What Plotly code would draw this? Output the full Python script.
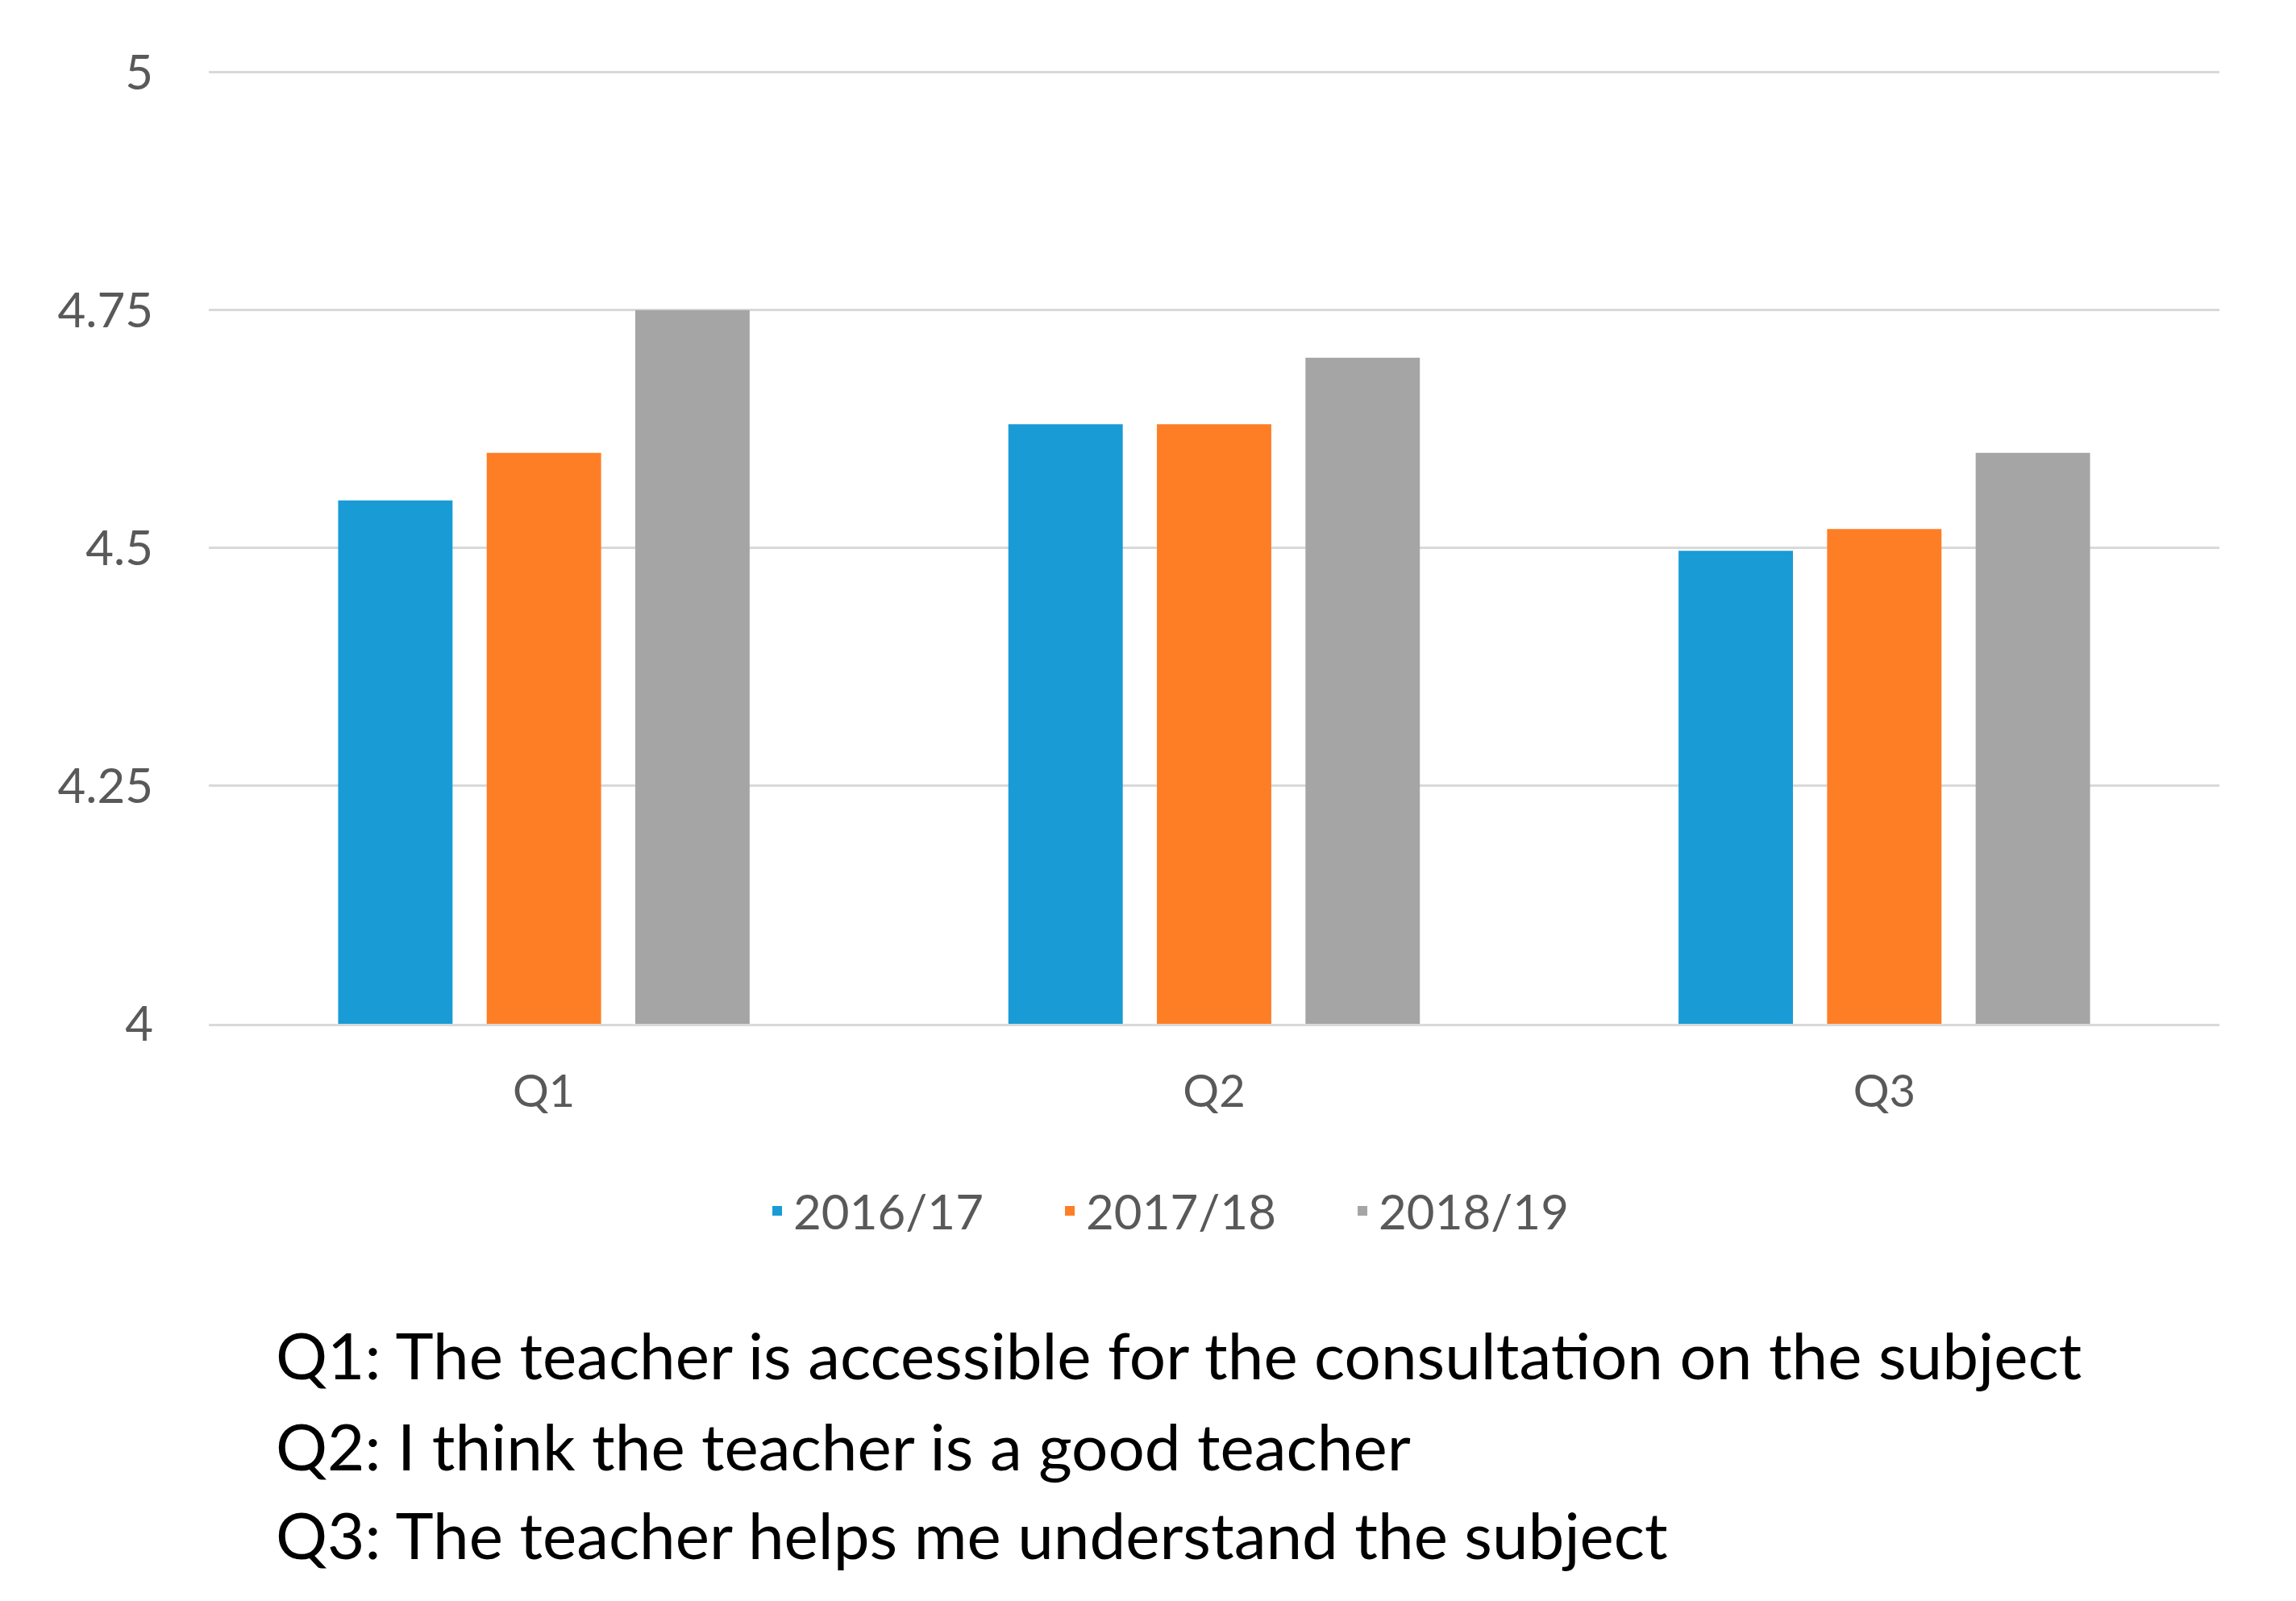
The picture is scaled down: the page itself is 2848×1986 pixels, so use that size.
# Grouped bar chart - teacher survey scores per question and academic year
import plotly.graph_objects as go

questions = ['Q1', 'Q2', 'Q3']
years = ['2016/17', '2017/18', '2018/19']
scores_1617 = [4.55, 4.63, 4.497]
scores_1718 = [4.60, 4.63, 4.52]
scores_1819 = [4.75, 4.70, 4.60]
colors = ['#199BD6', '#FE7E26', '#A5A5A5']

y_ticks = [4, 4.25, 4.5, 4.75, 5]
y_labels = ['4', '4.25', '4.5', '4.75', '5']

notes = ['Q1: The teacher is accessible for the consultation on the subject',
         'Q2: I think the teacher is a good teacher',
         'Q3: The teacher helps me understand the subject']
note_y = [-0.346, -0.442, -0.535]

fig = go.Figure()
for name, vals, col in zip(years, [scores_1617, scores_1718, scores_1819], colors):
    fig.add_trace(go.Bar(x=questions, y=vals, name=name, marker=dict(color=col, line=dict(width=0))))

# Notes under the legend explaining what each question is
for txt, yy in zip(notes, note_y):
    fig.add_annotation(text=txt, xref='paper', yref='paper', x=0.0325, y=yy,
                       xanchor='left', yanchor='middle', showarrow=False,
                       font=dict(family='Lato', size=80, color='#000000'))

fig.update_layout(
    width=2848, height=1986,
    margin=dict(l=251, r=103, t=78, b=724),
    paper_bgcolor='white', plot_bgcolor='white',
    barmode='group', bargap=0.335, bargroupgap=0.23,
    font=dict(family='Lato', color='#595959'),
    legend=dict(orientation='h', x=0.493, xanchor='center', y=-0.196, yanchor='middle',
                font=dict(size=60, color='#595959'), entrywidth=318),
    showlegend=True,
)
fig.update_yaxes(range=[4, 5.003], tickvals=y_ticks, ticktext=y_labels, showgrid=True,
                 gridcolor='#D9D9D9', gridwidth=3, zeroline=False, showline=False,
                 tickfont=dict(size=60, color='#595959'), ticklabelstandoff=68)
fig.update_xaxes(showline=True, linecolor='#D9D9D9', linewidth=3, showgrid=False,
                 tickfont=dict(size=56, color='#595959'), ticklabelstandoff=33)

fig.write_html("out.html")
